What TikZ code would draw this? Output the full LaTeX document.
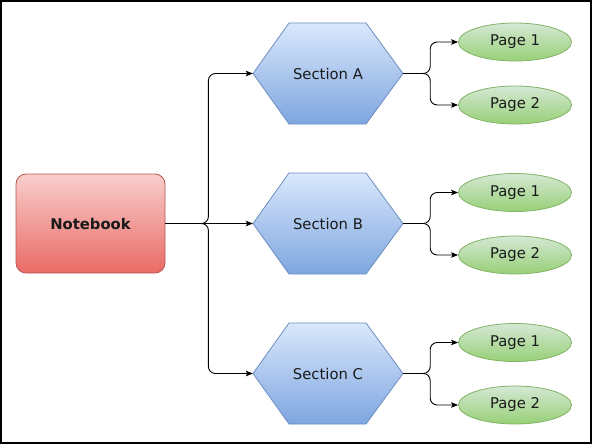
\documentclass[tikz,border=0pt]{standalone}
\usepackage{fontspec}
\setmainfont{DejaVu Sans}
\usetikzlibrary{shapes.geometric,arrows.meta}
\definecolor{redtop}{HTML}{F8CECC}
\definecolor{redbot}{HTML}{EA6B66}
\definecolor{redline}{HTML}{B85450}
\definecolor{bluetop}{HTML}{DAE8FC}
\definecolor{bluebot}{HTML}{7EA6E0}
\definecolor{blueline}{HTML}{6C8EBF}
\definecolor{greentop}{HTML}{D5E8D4}
\definecolor{greenbot}{HTML}{97D077}
\definecolor{greenline}{HTML}{82B366}
\definecolor{txt}{HTML}{1A1A1A}
\newcommand{\hexshape}[2]{%
  \shade[top color=bluetop,bottom color=bluebot,draw=blueline,line width=0.8pt,line join=miter]
    (#1-75,#2) -- (#1-39,#2-50.5) -- (#1+38,#2-50.5) -- (#1+75,#2) -- (#1+38,#2+50.5) -- (#1-39,#2+50.5) -- cycle;}
\begin{document}
\begin{tikzpicture}[x=1pt,y=-1pt,
  every node/.style={font=\fontsize{14.8pt}{17pt}\selectfont, text=txt},
  nbbox/.style={rectangle, rounded corners=10pt, minimum width=149pt, minimum height=99pt, inner sep=0pt,
    top color=redtop, bottom color=redbot, draw=redline, line width=0.8pt, font=\fontsize{14.8pt}{17pt}\selectfont\bfseries},
  hexbox/.style={rectangle, minimum width=150pt, minimum height=101pt, inner sep=0pt},
  pagebox/.style={ellipse, minimum width=113pt, minimum height=38pt, inner sep=0pt,
    top color=greentop, bottom color=greenbot, draw=greenline, line width=0.8pt},
  conn/.style={draw=black, line width=0.9pt, rounded corners=7pt, -{Stealth[length=7pt,width=5.5pt,inset=1.5pt]}}
]
\useasboundingbox (0,0) rectangle (592,444);
\draw[line width=1.6pt] (0.8,0.8) rectangle (591.2,443.2);

\node[nbbox] (nb) at (90.5,223.5) {Notebook};

\hexshape{328}{73.5}
\hexshape{328}{223.5}
\hexshape{328}{373.5}
\node[hexbox] (sa) at (328,73.5) {Section A};
\node[hexbox] (sb) at (328,223.5) {Section B};
\node[hexbox] (sc) at (328,373.5) {Section C};

\node[pagebox] (a1) at (515,42) {Page 1};
\node[pagebox] (a2) at (515,105) {Page 2};
\node[pagebox] (b1) at (515,192.5) {Page 1};
\node[pagebox] (b2) at (515,255) {Page 2};
\node[pagebox] (c1) at (515,342.5) {Page 1};
\node[pagebox] (c2) at (515,405) {Page 2};

\draw[conn] (nb.east) -- ++(43,0) |- (sa.west);
\draw[conn] (nb.east) -- (sb.west);
\draw[conn] (nb.east) -- ++(43,0) |- (sc.west);

\foreach \s/\p/\q in {sa/a1/a2, sb/b1/b2, sc/c1/c2}{
  \draw[conn] (\s.east) -- ++(27,0) |- (\p.west);
  \draw[conn] (\s.east) -- ++(27,0) |- (\q.west);
}
\end{tikzpicture}
\end{document}
